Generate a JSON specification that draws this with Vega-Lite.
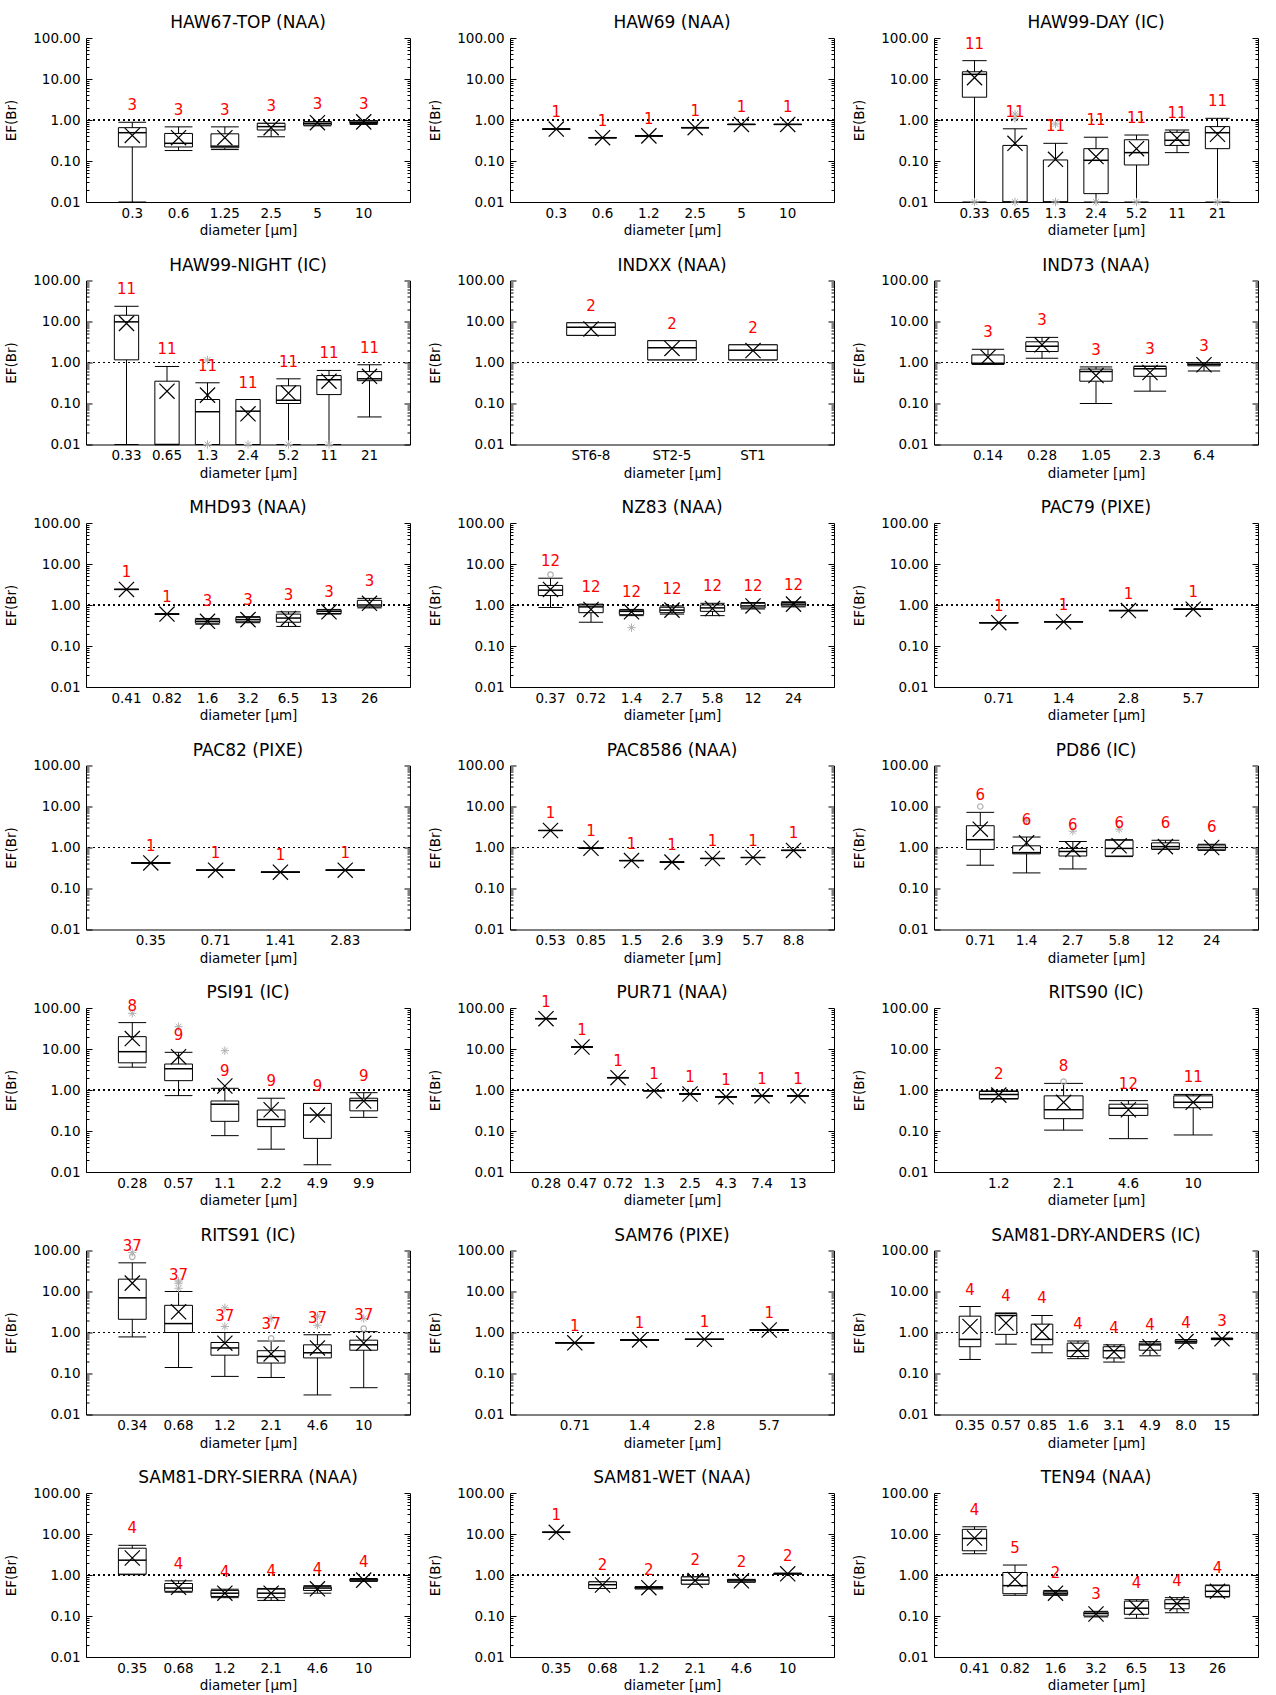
{
"$schema": "https://vega.github.io/schema/vega-lite/v6.json",
"padding": {"left": 4, "top": 14, "right": 5, "bottom": 5},
"background": "white",
"config": {"view": {"stroke": null}, "font": "DejaVu Sans", "axis": {"labelColor": "black", "titleColor": "black", "domainColor": "black", "tickColor": "black", "grid": false}},
"data": {"values": [
{"p":"HAW67-TOP (NAA)","c":"0.3","n":3,"lo":0.01,"q1":0.22,"md":0.49,"q3":0.65,"hi":0.88,"mn":0.42},
{"p":"HAW67-TOP (NAA)","c":"0.6","n":3,"lo":0.18,"q1":0.22,"md":0.27,"q3":0.47,"hi":0.68,"mn":0.37},
{"p":"HAW67-TOP (NAA)","c":"1.25","n":3,"lo":0.19,"q1":0.21,"md":0.23,"q3":0.46,"hi":0.68,"mn":0.37},
{"p":"HAW67-TOP (NAA)","c":"2.5","n":3,"lo":0.39,"q1":0.57,"md":0.69,"q3":0.83,"hi":0.83,"mn":0.65},
{"p":"HAW67-TOP (NAA)","c":"5","n":3,"lo":0.72,"q1":0.75,"md":0.82,"q3":0.9,"hi":0.92,"mn":0.86},
{"p":"HAW67-TOP (NAA)","c":"10","n":3,"lo":0.78,"q1":0.82,"md":0.88,"q3":0.95,"hi":0.97,"mn":0.9},
{"p":"HAW69 (NAA)","c":"0.3","n":1,"lo":0.6,"q1":0.6,"md":0.6,"q3":0.6,"hi":0.6,"mn":0.6},
{"p":"HAW69 (NAA)","c":"0.6","n":1,"lo":0.37,"q1":0.37,"md":0.37,"q3":0.37,"hi":0.37,"mn":0.37},
{"p":"HAW69 (NAA)","c":"1.2","n":1,"lo":0.41,"q1":0.41,"md":0.41,"q3":0.41,"hi":0.41,"mn":0.41},
{"p":"HAW69 (NAA)","c":"2.5","n":1,"lo":0.65,"q1":0.65,"md":0.65,"q3":0.65,"hi":0.65,"mn":0.65},
{"p":"HAW69 (NAA)","c":"5","n":1,"lo":0.78,"q1":0.78,"md":0.78,"q3":0.78,"hi":0.78,"mn":0.78},
{"p":"HAW69 (NAA)","c":"10","n":1,"lo":0.78,"q1":0.78,"md":0.78,"q3":0.78,"hi":0.78,"mn":0.78},
{"p":"HAW99-DAY (IC)","c":"0.33","n":11,"lo":0.01,"q1":3.6,"md":13,"q3":15,"hi":28,"mn":10.8,"s1":0.01},
{"p":"HAW99-DAY (IC)","c":"0.65","n":11,"lo":0.01,"q1":0.01,"md":0.01,"q3":0.24,"hi":0.61,"mn":0.27,"s1":0.01,"s2":1.1,"s3":1.4},
{"p":"HAW99-DAY (IC)","c":"1.3","n":11,"lo":0.01,"q1":0.01,"md":0.01,"q3":0.106,"hi":0.27,"mn":0.11,"s1":0.01,"s2":0.8},
{"p":"HAW99-DAY (IC)","c":"2.4","n":11,"lo":0.01,"q1":0.016,"md":0.104,"q3":0.2,"hi":0.38,"mn":0.128,"s1":0.01},
{"p":"HAW99-DAY (IC)","c":"5.2","n":11,"lo":0.01,"q1":0.08,"md":0.16,"q3":0.33,"hi":0.43,"mn":0.2,"s1":0.01},
{"p":"HAW99-DAY (IC)","c":"11","n":11,"lo":0.16,"q1":0.24,"md":0.32,"q3":0.5,"hi":0.57,"mn":0.36},
{"p":"HAW99-DAY (IC)","c":"21","n":11,"lo":0.01,"q1":0.2,"md":0.49,"q3":0.69,"hi":1.1,"mn":0.45,"s1":0.01},
{"p":"HAW99-NIGHT (IC)","c":"0.33","n":11,"lo":0.01,"q1":1.16,"md":9.8,"q3":14.2,"hi":23.5,"mn":9},
{"p":"HAW99-NIGHT (IC)","c":"0.65","n":11,"lo":0.01,"q1":0.01,"md":0.01,"q3":0.35,"hi":0.8,"mn":0.2},
{"p":"HAW99-NIGHT (IC)","c":"1.3","n":11,"lo":0.01,"q1":0.01,"md":0.063,"q3":0.125,"hi":0.32,"mn":0.16,"s1":1.15,"s2":0.01},
{"p":"HAW99-NIGHT (IC)","c":"2.4","n":11,"lo":0.01,"q1":0.01,"md":0.065,"q3":0.125,"hi":0.125,"mn":0.056,"s1":0.01},
{"p":"HAW99-NIGHT (IC)","c":"5.2","n":11,"lo":0.01,"q1":0.1,"md":0.12,"q3":0.27,"hi":0.4,"mn":0.18,"s1":0.01},
{"p":"HAW99-NIGHT (IC)","c":"11","n":11,"lo":0.01,"q1":0.165,"md":0.38,"q3":0.48,"hi":0.64,"mn":0.35,"s1":0.01},
{"p":"HAW99-NIGHT (IC)","c":"21","n":11,"lo":0.047,"q1":0.36,"md":0.4,"q3":0.6,"hi":0.88,"mn":0.46},
{"p":"INDXX (NAA)","c":"ST6-8","n":2,"lo":4.6,"q1":4.6,"md":7.2,"q3":9.3,"hi":9.3,"mn":6.6},
{"p":"INDXX (NAA)","c":"ST2-5","n":2,"lo":1.16,"q1":1.16,"md":2.3,"q3":3.4,"hi":3.4,"mn":2.2},
{"p":"INDXX (NAA)","c":"ST1","n":2,"lo":1.16,"q1":1.16,"md":2.0,"q3":2.7,"hi":2.7,"mn":1.95},
{"p":"IND73 (NAA)","c":"0.14","n":3,"lo":0.9,"q1":0.92,"md":0.96,"q3":1.53,"hi":2.1,"mn":1.35},
{"p":"IND73 (NAA)","c":"0.28","n":3,"lo":1.27,"q1":1.85,"md":2.5,"q3":3.2,"hi":4.1,"mn":2.7},
{"p":"IND73 (NAA)","c":"1.05","n":3,"lo":0.1,"q1":0.35,"md":0.6,"q3":0.69,"hi":0.78,"mn":0.48},
{"p":"IND73 (NAA)","c":"2.3","n":3,"lo":0.2,"q1":0.46,"md":0.7,"q3":0.8,"hi":0.82,"mn":0.57},
{"p":"IND73 (NAA)","c":"6.4","n":3,"lo":0.62,"q1":0.83,"md":0.9,"q3":0.97,"hi":0.99,"mn":0.88},
{"p":"MHD93 (NAA)","c":"0.41","n":1,"lo":2.4,"q1":2.4,"md":2.4,"q3":2.4,"hi":2.4,"mn":2.4},
{"p":"MHD93 (NAA)","c":"0.82","n":1,"lo":0.6,"q1":0.6,"md":0.6,"q3":0.6,"hi":0.6,"mn":0.6},
{"p":"MHD93 (NAA)","c":"1.6","n":3,"lo":0.34,"q1":0.36,"md":0.4,"q3":0.45,"hi":0.47,"mn":0.4},
{"p":"MHD93 (NAA)","c":"3.2","n":3,"lo":0.37,"q1":0.39,"md":0.44,"q3":0.5,"hi":0.52,"mn":0.44},
{"p":"MHD93 (NAA)","c":"6.5","n":3,"lo":0.3,"q1":0.38,"md":0.48,"q3":0.6,"hi":0.68,"mn":0.47},
{"p":"MHD93 (NAA)","c":"13","n":3,"lo":0.6,"q1":0.62,"md":0.7,"q3":0.76,"hi":0.78,"mn":0.68},
{"p":"MHD93 (NAA)","c":"26","n":3,"lo":0.85,"q1":0.9,"md":1.0,"q3":1.3,"hi":1.45,"mn":1.1},
{"p":"NZ83 (NAA)","c":"0.37","n":12,"lo":0.87,"q1":1.7,"md":2.3,"q3":3.0,"hi":4.5,"mn":2.4,"r1":5.5},
{"p":"NZ83 (NAA)","c":"0.72","n":12,"lo":0.38,"q1":0.65,"md":0.9,"q3":1.0,"hi":1.05,"mn":0.78},
{"p":"NZ83 (NAA)","c":"1.4","n":12,"lo":0.55,"q1":0.58,"md":0.7,"q3":0.75,"hi":0.78,"mn":0.68,"s1":0.28},
{"p":"NZ83 (NAA)","c":"2.7","n":12,"lo":0.6,"q1":0.65,"md":0.75,"q3":0.88,"hi":0.95,"mn":0.75},
{"p":"NZ83 (NAA)","c":"5.8","n":12,"lo":0.55,"q1":0.7,"md":0.85,"q3":1.0,"hi":1.1,"mn":0.82},
{"p":"NZ83 (NAA)","c":"12","n":12,"lo":0.8,"q1":0.85,"md":0.95,"q3":1.1,"hi":1.15,"mn":0.95},
{"p":"NZ83 (NAA)","c":"24","n":12,"lo":0.9,"q1":0.95,"md":1.05,"q3":1.15,"hi":1.2,"mn":1.05},
{"p":"PAC79 (PIXE)","c":"0.71","n":1,"lo":0.37,"q1":0.37,"md":0.37,"q3":0.37,"hi":0.37,"mn":0.37},
{"p":"PAC79 (PIXE)","c":"1.4","n":1,"lo":0.39,"q1":0.39,"md":0.39,"q3":0.39,"hi":0.39,"mn":0.39},
{"p":"PAC79 (PIXE)","c":"2.8","n":1,"lo":0.73,"q1":0.73,"md":0.73,"q3":0.73,"hi":0.73,"mn":0.73},
{"p":"PAC79 (PIXE)","c":"5.7","n":1,"lo":0.79,"q1":0.79,"md":0.79,"q3":0.79,"hi":0.79,"mn":0.79},
{"p":"PAC82 (PIXE)","c":"0.35","n":1,"lo":0.42,"q1":0.42,"md":0.42,"q3":0.42,"hi":0.42,"mn":0.42},
{"p":"PAC82 (PIXE)","c":"0.71","n":1,"lo":0.28,"q1":0.28,"md":0.28,"q3":0.28,"hi":0.28,"mn":0.28},
{"p":"PAC82 (PIXE)","c":"1.41","n":1,"lo":0.25,"q1":0.25,"md":0.25,"q3":0.25,"hi":0.25,"mn":0.25},
{"p":"PAC82 (PIXE)","c":"2.83","n":1,"lo":0.28,"q1":0.28,"md":0.28,"q3":0.28,"hi":0.28,"mn":0.28},
{"p":"PAC8586 (NAA)","c":"0.53","n":1,"lo":2.6,"q1":2.6,"md":2.6,"q3":2.6,"hi":2.6,"mn":2.6},
{"p":"PAC8586 (NAA)","c":"0.85","n":1,"lo":0.96,"q1":0.96,"md":0.96,"q3":0.96,"hi":0.96,"mn":0.96},
{"p":"PAC8586 (NAA)","c":"1.5","n":1,"lo":0.48,"q1":0.48,"md":0.48,"q3":0.48,"hi":0.48,"mn":0.48},
{"p":"PAC8586 (NAA)","c":"2.6","n":1,"lo":0.44,"q1":0.44,"md":0.44,"q3":0.44,"hi":0.44,"mn":0.44},
{"p":"PAC8586 (NAA)","c":"3.9","n":1,"lo":0.54,"q1":0.54,"md":0.54,"q3":0.54,"hi":0.54,"mn":0.54},
{"p":"PAC8586 (NAA)","c":"5.7","n":1,"lo":0.57,"q1":0.57,"md":0.57,"q3":0.57,"hi":0.57,"mn":0.57},
{"p":"PAC8586 (NAA)","c":"8.8","n":1,"lo":0.85,"q1":0.85,"md":0.85,"q3":0.85,"hi":0.85,"mn":0.85},
{"p":"PD86 (IC)","c":"0.71","n":6,"lo":0.37,"q1":0.9,"md":1.55,"q3":3.4,"hi":7.2,"mn":2.8,"r1":10},
{"p":"PD86 (IC)","c":"1.4","n":6,"lo":0.24,"q1":0.7,"md":0.75,"q3":1.1,"hi":1.8,"mn":1.3,"s1":4.5},
{"p":"PD86 (IC)","c":"2.7","n":6,"lo":0.3,"q1":0.62,"md":0.8,"q3":0.95,"hi":1.4,"mn":0.9,"s1":2.5},
{"p":"PD86 (IC)","c":"5.8","n":6,"lo":0.6,"q1":0.62,"md":0.95,"q3":1.5,"hi":1.55,"mn":1.1,"s1":2.8},
{"p":"PD86 (IC)","c":"12","n":6,"lo":0.9,"q1":0.92,"md":1.05,"q3":1.3,"hi":1.5,"mn":1.05},
{"p":"PD86 (IC)","c":"24","n":6,"lo":0.85,"q1":0.88,"md":1.0,"q3":1.15,"hi":1.2,"mn":1.0},
{"p":"PSI91 (IC)","c":"0.28","n":8,"lo":3.6,"q1":4.6,"md":8.6,"q3":20,"hi":44,"mn":18,"s1":74},
{"p":"PSI91 (IC)","c":"0.57","n":9,"lo":0.73,"q1":1.69,"md":3.3,"q3":4.3,"hi":8.3,"mn":6.5,"s1":35},
{"p":"PSI91 (IC)","c":"1.1","n":9,"lo":0.077,"q1":0.172,"md":0.45,"q3":0.54,"hi":1.1,"mn":1.25,"s1":9.1},
{"p":"PSI91 (IC)","c":"2.2","n":9,"lo":0.036,"q1":0.128,"md":0.19,"q3":0.325,"hi":0.63,"mn":0.33},
{"p":"PSI91 (IC)","c":"4.9","n":9,"lo":0.015,"q1":0.066,"md":0.245,"q3":0.47,"hi":0.47,"mn":0.245},
{"p":"PSI91 (IC)","c":"9.9","n":9,"lo":0.215,"q1":0.31,"md":0.55,"q3":0.63,"hi":0.86,"mn":0.54},
{"p":"PUR71 (NAA)","c":"0.28","n":1,"lo":55,"q1":55,"md":55,"q3":55,"hi":55,"mn":55},
{"p":"PUR71 (NAA)","c":"0.47","n":1,"lo":11.2,"q1":11.2,"md":11.2,"q3":11.2,"hi":11.2,"mn":11.2},
{"p":"PUR71 (NAA)","c":"0.72","n":1,"lo":2.0,"q1":2.0,"md":2.0,"q3":2.0,"hi":2.0,"mn":2.0},
{"p":"PUR71 (NAA)","c":"1.3","n":1,"lo":0.96,"q1":0.96,"md":0.96,"q3":0.96,"hi":0.96,"mn":0.96},
{"p":"PUR71 (NAA)","c":"2.5","n":1,"lo":0.8,"q1":0.8,"md":0.8,"q3":0.8,"hi":0.8,"mn":0.8},
{"p":"PUR71 (NAA)","c":"4.3","n":1,"lo":0.68,"q1":0.68,"md":0.68,"q3":0.68,"hi":0.68,"mn":0.68},
{"p":"PUR71 (NAA)","c":"7.4","n":1,"lo":0.72,"q1":0.72,"md":0.72,"q3":0.72,"hi":0.72,"mn":0.72},
{"p":"PUR71 (NAA)","c":"13","n":1,"lo":0.72,"q1":0.72,"md":0.72,"q3":0.72,"hi":0.72,"mn":0.72},
{"p":"RITS90 (IC)","c":"1.2","n":2,"lo":0.6,"q1":0.62,"md":0.78,"q3":0.92,"hi":0.95,"mn":0.75},
{"p":"RITS90 (IC)","c":"2.1","n":8,"lo":0.105,"q1":0.2,"md":0.33,"q3":0.72,"hi":1.45,"mn":0.5,"r1":1.6},
{"p":"RITS90 (IC)","c":"4.6","n":12,"lo":0.065,"q1":0.24,"md":0.36,"q3":0.45,"hi":0.55,"mn":0.33},
{"p":"RITS90 (IC)","c":"10","n":11,"lo":0.08,"q1":0.37,"md":0.5,"q3":0.72,"hi":0.78,"mn":0.5},
{"p":"RITS91 (IC)","c":"0.34","n":37,"lo":0.78,"q1":2.1,"md":7,"q3":20,"hi":50,"mn":16,"r1":70,"s1":90},
{"p":"RITS91 (IC)","c":"0.68","n":37,"lo":0.14,"q1":1.0,"md":1.65,"q3":4.6,"hi":10,"mn":3.2,"s1":12,"s2":16,"s3":18},
{"p":"RITS91 (IC)","c":"1.2","n":37,"lo":0.085,"q1":0.28,"md":0.42,"q3":0.57,"hi":1.0,"mn":0.55,"s1":1.4,"s2":4},
{"p":"RITS91 (IC)","c":"2.1","n":37,"lo":0.08,"q1":0.18,"md":0.26,"q3":0.36,"hi":0.62,"mn":0.3,"r1":0.72,"s1":2.2},
{"p":"RITS91 (IC)","c":"4.6","n":37,"lo":0.03,"q1":0.24,"md":0.32,"q3":0.5,"hi":0.88,"mn":0.42,"s1":1.5,"s2":2.5},
{"p":"RITS91 (IC)","c":"10","n":37,"lo":0.045,"q1":0.37,"md":0.5,"q3":0.65,"hi":1.05,"mn":0.55,"r1":1.25,"s1":2.2},
{"p":"SAM76 (PIXE)","c":"0.71","n":1,"lo":0.56,"q1":0.56,"md":0.56,"q3":0.56,"hi":0.56,"mn":0.56},
{"p":"SAM76 (PIXE)","c":"1.4","n":1,"lo":0.66,"q1":0.66,"md":0.66,"q3":0.66,"hi":0.66,"mn":0.66},
{"p":"SAM76 (PIXE)","c":"2.8","n":1,"lo":0.68,"q1":0.68,"md":0.68,"q3":0.68,"hi":0.68,"mn":0.68},
{"p":"SAM76 (PIXE)","c":"5.7","n":1,"lo":1.15,"q1":1.15,"md":1.15,"q3":1.15,"hi":1.15,"mn":1.15},
{"p":"SAM81-DRY-ANDERS (IC)","c":"0.35","n":4,"lo":0.22,"q1":0.45,"md":0.68,"q3":2.5,"hi":4.3,"mn":1.4},
{"p":"SAM81-DRY-ANDERS (IC)","c":"0.57","n":4,"lo":0.52,"q1":0.9,"md":2.6,"q3":2.9,"hi":3.0,"mn":1.7},
{"p":"SAM81-DRY-ANDERS (IC)","c":"0.85","n":4,"lo":0.32,"q1":0.5,"md":0.68,"q3":1.6,"hi":2.6,"mn":1.05},
{"p":"SAM81-DRY-ANDERS (IC)","c":"1.6","n":4,"lo":0.23,"q1":0.26,"md":0.36,"q3":0.55,"hi":0.62,"mn":0.38},
{"p":"SAM81-DRY-ANDERS (IC)","c":"3.1","n":4,"lo":0.19,"q1":0.24,"md":0.36,"q3":0.45,"hi":0.5,"mn":0.34},
{"p":"SAM81-DRY-ANDERS (IC)","c":"4.9","n":4,"lo":0.27,"q1":0.37,"md":0.5,"q3":0.55,"hi":0.6,"mn":0.45},
{"p":"SAM81-DRY-ANDERS (IC)","c":"8.0","n":4,"lo":0.55,"q1":0.56,"md":0.6,"q3":0.66,"hi":0.67,"mn":0.6},
{"p":"SAM81-DRY-ANDERS (IC)","c":"15","n":3,"lo":0.67,"q1":0.68,"md":0.7,"q3":0.72,"hi":0.73,"mn":0.7},
{"p":"SAM81-DRY-SIERRA (NAA)","c":"0.35","n":4,"lo":1.02,"q1":1.05,"md":2.3,"q3":4.5,"hi":5.3,"mn":2.6},
{"p":"SAM81-DRY-SIERRA (NAA)","c":"0.68","n":4,"lo":0.38,"q1":0.4,"md":0.48,"q3":0.62,"hi":0.72,"mn":0.5},
{"p":"SAM81-DRY-SIERRA (NAA)","c":"1.2","n":4,"lo":0.28,"q1":0.3,"md":0.36,"q3":0.42,"hi":0.45,"mn":0.36},
{"p":"SAM81-DRY-SIERRA (NAA)","c":"2.1","n":4,"lo":0.24,"q1":0.28,"md":0.36,"q3":0.45,"hi":0.47,"mn":0.36},
{"p":"SAM81-DRY-SIERRA (NAA)","c":"4.6","n":4,"lo":0.36,"q1":0.42,"md":0.48,"q3":0.52,"hi":0.55,"mn":0.46},
{"p":"SAM81-DRY-SIERRA (NAA)","c":"10","n":4,"lo":0.7,"q1":0.72,"md":0.76,"q3":0.8,"hi":0.82,"mn":0.75},
{"p":"SAM81-WET (NAA)","c":"0.35","n":1,"lo":11,"q1":11,"md":11,"q3":11,"hi":11,"mn":11},
{"p":"SAM81-WET (NAA)","c":"0.68","n":2,"lo":0.47,"q1":0.47,"md":0.58,"q3":0.68,"hi":0.68,"mn":0.57},
{"p":"SAM81-WET (NAA)","c":"1.2","n":2,"lo":0.46,"q1":0.46,"md":0.49,"q3":0.52,"hi":0.52,"mn":0.49},
{"p":"SAM81-WET (NAA)","c":"2.1","n":2,"lo":0.6,"q1":0.6,"md":0.75,"q3":0.9,"hi":0.9,"mn":0.73},
{"p":"SAM81-WET (NAA)","c":"4.6","n":2,"lo":0.67,"q1":0.67,"md":0.72,"q3":0.78,"hi":0.78,"mn":0.72},
{"p":"SAM81-WET (NAA)","c":"10","n":2,"lo":1.05,"q1":1.05,"md":1.08,"q3":1.1,"hi":1.1,"mn":1.07},
{"p":"TEN94 (NAA)","c":"0.41","n":4,"lo":3.3,"q1":3.9,"md":7.8,"q3":13,"hi":15,"mn":8},
{"p":"TEN94 (NAA)","c":"0.82","n":5,"lo":0.32,"q1":0.35,"md":0.55,"q3":1.15,"hi":1.75,"mn":0.78},
{"p":"TEN94 (NAA)","c":"1.6","n":2,"lo":0.32,"q1":0.33,"md":0.36,"q3":0.4,"hi":0.42,"mn":0.36},
{"p":"TEN94 (NAA)","c":"3.2","n":3,"lo":0.095,"q1":0.1,"md":0.115,"q3":0.125,"hi":0.13,"mn":0.112},
{"p":"TEN94 (NAA)","c":"6.5","n":4,"lo":0.088,"q1":0.11,"md":0.155,"q3":0.23,"hi":0.25,"mn":0.16},
{"p":"TEN94 (NAA)","c":"13","n":4,"lo":0.12,"q1":0.15,"md":0.2,"q3":0.25,"hi":0.28,"mn":0.2},
{"p":"TEN94 (NAA)","c":"26","n":4,"lo":0.29,"q1":0.3,"md":0.4,"q3":0.55,"hi":0.57,"mn":0.4}
]},
"facet": {"field": "p", "type": "nominal",
  "sort": ["HAW67-TOP (NAA)","HAW69 (NAA)","HAW99-DAY (IC)","HAW99-NIGHT (IC)","INDXX (NAA)","IND73 (NAA)","MHD93 (NAA)","NZ83 (NAA)","PAC79 (PIXE)","PAC82 (PIXE)","PAC8586 (NAA)","PD86 (IC)","PSI91 (IC)","PUR71 (NAA)","RITS90 (IC)","RITS91 (IC)","SAM76 (PIXE)","SAM81-DRY-ANDERS (IC)","SAM81-DRY-SIERRA (NAA)","SAM81-WET (NAA)","TEN94 (NAA)"],
  "header": {"title": null, "labelFontSize": 17, "labelFont": "DejaVu Sans", "labelColor": "black", "labelPadding": -11}},
"columns": 3,
"spacing": {"row": 78.5, "column": 100},
"bounds": "flush",
"resolve": {"scale": {"x": "independent"}, "axis": {"x": "independent", "y": "independent"}},
"spec": {
  "width": 324,
  "height": 164,
  "resolve": {"axis": {"y": "independent"}},
  "layer": [
    {
      "mark": {"type": "rule", "color": "black", "strokeWidth": 1},
      "encoding": {
        "x": {"field": "c", "type": "nominal", "sort": null,
          "scale": {"type": "band", "paddingInner": 0.4, "paddingOuter": 0.7},
          "axis": {"title": "diameter [μm]", "titleFontSize": 13.5, "titleFontWeight": "normal", "titlePadding": 4, "labelAngle": 0, "labelFontSize": 13.5, "labelPadding": 4, "ticks": false, "labelOverlap": false}},
        "y": {"field": "lo", "type": "quantitative",
          "scale": {"type": "log", "domain": [0.01, 100], "nice": false, "zero": false},
          "axis": {"orient": "left", "title": "EF(Br)", "titleFontSize": 13.5, "titleFontWeight": "normal", "titlePadding": 14, "labelFontSize": 13.5,
            "values": [0.01,0.02,0.03,0.04,0.05,0.06,0.07,0.08,0.09,0.1,0.2,0.3,0.4,0.5,0.6,0.7,0.8,0.9,1,2,3,4,5,6,7,8,9,10,20,30,40,50,60,70,80,90,100],
            "labelExpr": "abs(log(datum.value)/LN10 - round(log(datum.value)/LN10)) < 0.001 ? format(datum.value, '.2f') : ''",
            "tickSize": {"condition": {"test": "abs(log(datum.value)/LN10 - round(log(datum.value)/LN10)) < 0.001", "value": -6}, "value": -3},
            "labelPadding": 12, "labelOverlap": false, "labelFlush": false}},
        "y2": {"field": "hi"}
      }
    },
    {
      "mark": {"type": "rule", "color": "black", "strokeWidth": 1, "strokeDash": [2, 3]},
      "encoding": {
        "y": {"datum": 1, "type": "quantitative",
          "axis": {"orient": "right", "title": null, "labels": false,
            "values": [0.01,0.02,0.03,0.04,0.05,0.06,0.07,0.08,0.09,0.1,0.2,0.3,0.4,0.5,0.6,0.7,0.8,0.9,1,2,3,4,5,6,7,8,9,10,20,30,40,50,60,70,80,90,100],
            "tickSize": {"condition": {"test": "abs(log(datum.value)/LN10 - round(log(datum.value)/LN10)) < 0.001", "value": -6}, "value": -3}}}
      }
    },
    {
      "mark": {"type": "text", "opacity": 0, "fontSize": 14, "dy": -10, "baseline": "middle", "text": "0"},
      "encoding": {
        "y": {"datum": 100, "type": "quantitative", "axis": null}
      }
    },
    {
      "mark": {"type": "rule", "color": "black", "strokeWidth": 1},
      "encoding": {
        "x": {"field": "c", "type": "nominal", "sort": null, "bandPosition": 0},
        "x2": {"field": "c", "bandPosition": 1},
        "y": {"field": "hi", "type": "quantitative", "axis": null}
      }
    },
    {
      "mark": {"type": "rule", "color": "black", "strokeWidth": 1},
      "encoding": {
        "x": {"field": "c", "type": "nominal", "sort": null, "bandPosition": 0},
        "x2": {"field": "c", "bandPosition": 1},
        "y": {"field": "lo", "type": "quantitative", "axis": null}
      }
    },
    {
      "mark": {"type": "bar", "fill": "white", "stroke": "black", "strokeWidth": 1},
      "encoding": {
        "x": {"field": "c", "type": "nominal", "sort": null},
        "y": {"field": "q1", "type": "quantitative", "axis": null},
        "y2": {"field": "q3"}
      }
    },
    {
      "mark": {"type": "rule", "color": "black", "strokeWidth": 1.5},
      "encoding": {
        "x": {"field": "c", "type": "nominal", "sort": null, "bandPosition": 0},
        "x2": {"field": "c", "bandPosition": 1},
        "y": {"field": "md", "type": "quantitative", "axis": null}
      }
    },
    {
      "mark": {"type": "point", "shape": "M-1,0L1,0M0,-1L0,1M-0.7,-0.7L0.7,0.7M-0.7,0.7L0.7,-0.7", "size": 70, "stroke": "#b0b0b0", "strokeWidth": 1, "filled": false, "opacity": 1},
      "encoding": {
        "x": {"field": "c", "type": "nominal", "sort": null},
        "y": {"field": "s1", "type": "quantitative", "axis": null}
      }
    },
    {
      "mark": {"type": "point", "shape": "M-1,0L1,0M0,-1L0,1M-0.7,-0.7L0.7,0.7M-0.7,0.7L0.7,-0.7", "size": 70, "stroke": "#b0b0b0", "strokeWidth": 1, "filled": false, "opacity": 1},
      "encoding": {
        "x": {"field": "c", "type": "nominal", "sort": null},
        "y": {"field": "s2", "type": "quantitative", "axis": null}
      }
    },
    {
      "mark": {"type": "point", "shape": "M-1,0L1,0M0,-1L0,1M-0.7,-0.7L0.7,0.7M-0.7,0.7L0.7,-0.7", "size": 70, "stroke": "#b0b0b0", "strokeWidth": 1, "filled": false, "opacity": 1},
      "encoding": {
        "x": {"field": "c", "type": "nominal", "sort": null},
        "y": {"field": "s3", "type": "quantitative", "axis": null}
      }
    },
    {
      "mark": {"type": "point", "shape": "circle", "size": 30, "stroke": "#b0b0b0", "strokeWidth": 1.2, "filled": false, "opacity": 1},
      "encoding": {
        "x": {"field": "c", "type": "nominal", "sort": null},
        "y": {"field": "r1", "type": "quantitative", "axis": null}
      }
    },
    {
      "mark": {"type": "point", "shape": "M-1,-1L1,1M-1,1L1,-1", "size": 230, "stroke": "black", "strokeWidth": 1.2, "filled": false, "opacity": 1},
      "encoding": {
        "x": {"field": "c", "type": "nominal", "sort": null},
        "y": {"field": "mn", "type": "quantitative", "axis": null}
      }
    },
    {
      "mark": {"type": "text", "color": "#ff0000", "fontSize": 15, "dy": -17, "baseline": "middle", "align": "center"},
      "encoding": {
        "x": {"field": "c", "type": "nominal", "sort": null},
        "y": {"field": "hi", "type": "quantitative", "axis": null},
        "text": {"field": "n", "type": "quantitative"}
      }
    }
  ]
}
}
